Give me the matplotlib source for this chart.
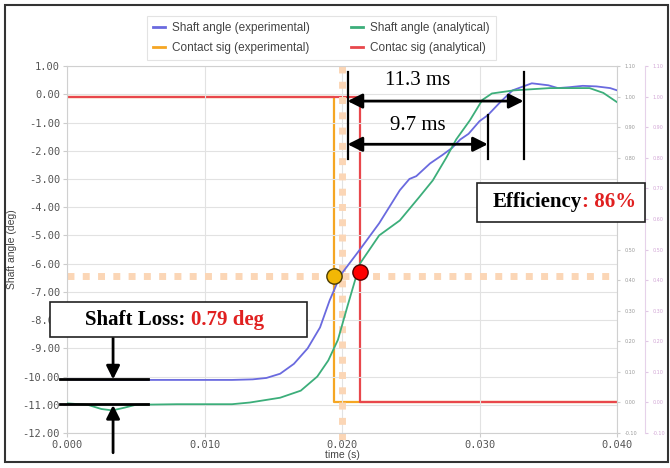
import matplotlib
matplotlib.use("Agg")
import matplotlib.pyplot as plt
from matplotlib.patches import Rectangle
from matplotlib.lines import Line2D

# shaft angle, experimental (time s, deg)
t_exp = [0.000, 0.004, 0.008, 0.012, 0.0135, 0.0145, 0.0155, 0.0165, 0.0175, 0.0184,
         0.0191, 0.0199, 0.0213, 0.0227, 0.0242, 0.0249, 0.0254, 0.0264, 0.0273, 0.0280,
         0.0286, 0.0292, 0.0300, 0.0306, 0.0315, 0.0324, 0.0338, 0.0350, 0.0357, 0.0365,
         0.0375, 0.0385, 0.0395, 0.0400]
ang_exp = [-10.10, -10.12, -10.12, -10.12, -10.10, -10.05, -9.90, -9.55, -9.00, -8.26,
           -7.30, -6.40, -5.50, -4.57, -3.40, -3.00, -2.90, -2.45, -2.15, -1.90,
           -1.60, -1.40, -0.95, -0.74, -0.28, 0.14, 0.39, 0.32, 0.22, 0.25,
           0.30, 0.28, 0.22, 0.14]

# shaft angle, analytical
t_ana = [0.000, 0.0015, 0.0025, 0.0033, 0.0042, 0.005, 0.008, 0.012, 0.0133, 0.0155,
         0.0170, 0.0182, 0.0190, 0.0197, 0.0204, 0.0213, 0.0227, 0.0242, 0.0256, 0.0266,
         0.0276, 0.0283, 0.0293, 0.0302, 0.0309, 0.0325, 0.0351, 0.0380, 0.0390, 0.0400]
ang_ana = [-10.95, -11.00, -11.15, -11.20, -11.10, -11.00, -10.98, -10.98, -10.92, -10.75,
           -10.50, -10.00, -9.43, -8.70, -7.50, -6.00, -5.00, -4.47, -3.65, -3.05,
           -2.23, -1.60, -0.92, -0.20, 0.03, 0.14, 0.22, 0.22, 0.05, -0.28]

# contact signals (0/1)
t_sig_exp = [0.0, 0.0194, 0.0194, 0.040]
sig_exp = [1, 1, 0, 0]
t_sig_ana = [0.0, 0.0213, 0.0213, 0.040]
sig_ana = [1, 1, 0, 0]

# reference marks
t_cross = 0.0200
ang_cross = -6.42
pt_exp = (0.0194, -6.42)
pt_ana = (0.0213, -6.30)

# annotation values
t_start = 0.0204
t_end_11 = 0.0332
t_end_97 = 0.0306
loss_hi = -10.10
loss_lo = -10.96

blue = '#6a6adf'
green = '#3cae7a'
orange = '#f5a623'
red = '#e8474c'
peach = '#fbd6b6'
mono = 'DejaVu Sans Mono'
sans = 'Liberation Sans'
serif = 'Liberation Serif'

fig = plt.figure(figsize=(6.7, 4.68), dpi=100)
ax = fig.add_axes([0.1, 0.0748, 0.821, 0.784])

ax.set_xlim(0, 0.040)
ax.set_ylim(-12, 1)
ax.set_xticks([0.0, 0.01, 0.02, 0.03, 0.04])
ax.set_xticklabels(['0.000', '0.010', '0.020', '0.030', '0.040'])
ax.set_yticks(range(-12, 2))
ax.set_yticklabels(['%.2f' % v for v in range(-12, 2)])
for lab in ax.get_xticklabels() + ax.get_yticklabels():
    lab.set_fontfamily(mono)
    lab.set_fontsize(7.5)
    lab.set_color('#555555')
ax.tick_params(length=3, color='#cccccc', pad=2)
ax.grid(True, color='#e2e2e2', lw=0.8)
for s in ax.spines.values():
    s.set_color('#d0d0d0')
ax.set_xlabel('time (s)', fontfamily=sans, fontsize=7.5, color='#444444', labelpad=0)
ax.set_ylabel('Shaft angle (deg)', fontfamily=sans, fontsize=7.5, color='#444444', labelpad=4)

# right-hand signal axes
sig_ticks = [i / 10 for i in range(-1, 12)]
sig_labels = ['%.2f' % v for v in sig_ticks]

ax2 = ax.twinx()
ax2.set_ylim(-0.1, 1.1)
ax2.set_yticks(sig_ticks)
ax2.set_yticklabels(sig_labels)
ax2.tick_params(length=2, color='#cccccc', labelsize=3.5, labelcolor='#999999')
for s in ax2.spines.values():
    s.set_visible(False)

ax3 = ax.twinx()
for k, s in ax3.spines.items():
    s.set_visible(k == 'right')
ax3.spines['right'].set_position(('axes', 1.051))
ax3.spines['right'].set_color('#e6d2ea')
ax3.set_ylim(-0.1, 1.1)
ax3.set_yticks(sig_ticks)
ax3.set_yticklabels(sig_labels)
ax3.tick_params(length=2, color='#e0c8e4', labelsize=3.5, labelcolor='#d2a6d6')

# peach dotted guides
ax.plot([t_cross, t_cross], [1, -12.4], color=peach, lw=5, ls=(0, (1, 1.2)), clip_on=False, zorder=2)
ax.plot([0, 0.0397], [ang_cross, ang_cross], color=peach, lw=5, ls=(0, (1, 1.2)), zorder=2)

ax2.plot(t_sig_exp, sig_exp, color=orange, lw=1.6, zorder=3)
ax2.plot(t_sig_ana, sig_ana, color=red, lw=1.6, zorder=4)

ax.set_zorder(ax2.get_zorder() + 1)
ax.patch.set_visible(False)

ax.plot(t_exp, ang_exp, color=blue, lw=1.3, zorder=3)
ax.plot(t_ana, ang_ana, color=green, lw=1.3, zorder=3)

ax.plot(*pt_exp, 'o', ms=11, color='#f2b705', mec='#4a3a00', mew=1, zorder=6)
ax.plot(*pt_ana, 'o', ms=11, color='#ff0000', mec='#500000', mew=1, zorder=6)

# timing annotations
top_y = 0.78
bot_y = -2.28
for tv, y0 in [(t_start, top_y), (t_end_11, top_y), (t_end_97, -0.75)]:
    ax.plot([tv, tv], [y0, bot_y], color='black', lw=1.6, zorder=7)
arrow = dict(arrowstyle='<|-|>', color='black', lw=2, mutation_scale=22, shrinkA=0, shrinkB=0)
ax.annotate('', xy=(t_end_11, -0.24), xytext=(t_start, -0.24), arrowprops=arrow, zorder=7)
ax.annotate('', xy=(t_end_97, -1.77), xytext=(t_start, -1.77), arrowprops=arrow, zorder=7)
ax.text(0.02553, 0.5, '11.3 ms', fontfamily=serif, fontsize=15, ha='center', va='center', zorder=8)
ax.text(0.02553, -1.1, '9.7 ms', fontfamily=serif, fontsize=15, ha='center', va='center', zorder=8)

# shaft loss marks
ax.plot([-0.0005, 0.0059], [loss_hi, loss_hi], color='black', lw=2, clip_on=False, zorder=7)
ax.plot([-0.0005, 0.0059], [loss_lo, loss_lo], color='black', lw=2, clip_on=False, zorder=7)
ax.annotate('', xy=(0.00335, loss_hi), xytext=(0.00335, -8.62),
            arrowprops=dict(arrowstyle='-|>', color='black', lw=2, mutation_scale=20, shrinkA=0, shrinkB=0),
            zorder=7)
ax.annotate('', xy=(0.00335, loss_lo - 0.05), xytext=(0.00335, -12.7),
            arrowprops=dict(arrowstyle='-|>', color='black', lw=2, mutation_scale=20, shrinkA=0, shrinkB=0,
                            clip_on=False),
            annotation_clip=False, zorder=7)

W, H = 670.0, 468.0


def fig_box(x0, y0, x1, y1):
    r = Rectangle((x0 / W, 1 - y1 / H), (x1 - x0) / W, (y1 - y0) / H, transform=fig.transFigure,
                  facecolor='white', edgecolor='#222222', lw=1.2, zorder=5)
    fig.add_artist(r)


fig_box(50, 302, 307, 337)
fig_box(477, 183, 645, 222)
fr = Rectangle((5 / W, 1 - 462 / H), 663 / W, 457 / H, transform=fig.transFigure,
               facecolor='none', edgecolor='#333333', lw=1.5, zorder=10)
fig.add_artist(fr)

fig.canvas.draw()
r = fig.canvas.get_renderer()
for x_left, yc, a, b in [(85, 320, 'Shaft Loss: ', '0.79 deg'), (493, 202, 'Efficiency', ': 86%')]:
    t1 = fig.text(x_left / W, 1 - yc / H, a, fontfamily=serif, fontweight='bold', fontsize=15,
                  ha='left', va='center', color='black', zorder=6)
    fig.canvas.draw()
    bb = t1.get_window_extent(r).transformed(fig.transFigure.inverted())
    fig.text(bb.x1, 1 - yc / H, b, fontfamily=serif, fontweight='bold', fontsize=15,
             ha='left', va='center', color='#e02020', zorder=6)

# legend
handles = [Line2D([], [], color=blue, lw=2), Line2D([], [], color=orange, lw=2),
           Line2D([], [], color=green, lw=2), Line2D([], [], color=red, lw=2)]
labels = ['Shaft angle (experimental)', 'Contact sig (experimental)',
          'Shaft angle (analytical)', 'Contac sig (analytical)']
leg = fig.legend(handles, labels, ncol=2, loc='upper center', bbox_to_anchor=(0.48, 0.978),
                 prop={'family': sans, 'size': 8.5}, handlelength=1.0, handletextpad=0.6,
                 columnspacing=3.5, labelspacing=0.7, fancybox=False, edgecolor='#dddddd',
                 borderpad=0.5, labelcolor='#444444')
leg.get_frame().set_linewidth(0.8)

fig.savefig('out.png', dpi=100)
